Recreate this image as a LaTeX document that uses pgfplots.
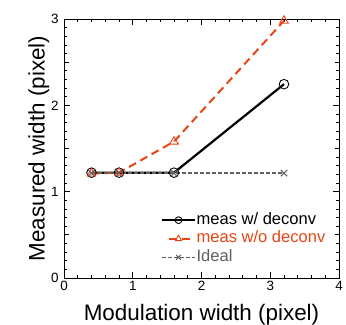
\documentclass[border=0pt]{standalone}
\usepackage{pgfplots}
\pgfplotsset{compat=1.18}
\usepackage{fontspec}
\setmainfont{Liberation Sans}
\definecolor{redor}{RGB}{232,68,20}
\definecolor{idealgray}{RGB}{95,95,95}
\begin{document}
\begin{tikzpicture}
\begin{axis}[
  scale only axis,
  width=275bp, height=259bp,
  xmin=0, xmax=4, ymin=0, ymax=3,
  xtick={0,1,2,3,4}, ytick={0,1,2,3},
  minor x tick num=4, minor y tick num=9,
  extra y ticks={0.5,1.5,2.5}, extra y tick labels={},
  extra y tick style={major tick length=4.5bp, tick style={line width=0.8pt}},
  tick align=inside, ticks=both,
  xtick pos=both, ytick pos=both,
  major tick length=6bp, minor tick length=3bp,
  tick style={black, line width=0.8pt},
  axis line style={line width=0.9pt},
  /pgf/number format/assume math mode=true,
  ticklabel style={font=\fontsize{13.5}{13.5}\selectfont},
  label style={font=\fontsize{22.5}{22.5}\selectfont},
  xlabel={Modulation width (pixel)},
  ylabel={Measured width (pixel)},
  xlabel style={yshift=-6bp},
  ylabel style={yshift=-5bp},
  xticklabel style={yshift=0bp},
  yticklabel style={xshift=-2bp},
  legend style={draw=none, fill=none, at={(rel axis cs:0.35,0.26)}, anchor=north west,
    font=\fontsize{16.6}{17}\selectfont, row sep=0bp, inner sep=0pt,
    nodes={text height=12.3bp, text depth=4.3bp, inner sep=1bp}},
  legend cell align=left,
  legend image code/.code={\draw[mark repeat=2,mark phase=2, mark size=3.4bp] plot coordinates {(0bp,0bp)(17bp,0bp)(33bp,0bp)};},
]
\coordinate (bl) at (rel axis cs:0,0);
\coordinate (tr) at (rel axis cs:1,1);
\addplot[black, line width=2.2pt, mark=o, mark size=4.8bp, mark options={solid, line width=0.9pt}]
  coordinates {(0.4,1.22) (0.8,1.22) (1.6,1.22) (3.2,2.245)};
\addlegendentry{meas w/ deconv}
\addplot[redor, line width=2pt, dash pattern=on 8bp off 5bp, mark=triangle, mark size=5bp, mark options={solid, line width=0.9pt},
  legend image code/.code={\draw[mark repeat=2,mark phase=2, mark size=3.6bp] plot coordinates {(7bp,0bp)(17bp,0bp)(31bp,0bp)};}]
  coordinates {(0.4,1.21) (0.8,1.22) (1.6,1.58) (3.2,2.98)};
\addlegendentry{\textcolor{redor}{meas w/o deconv}}
\addplot[idealgray, line width=1.6pt, dash pattern=on 4bp off 2bp, mark=x, mark size=4.5bp, mark options={solid, line width=1pt}]
  coordinates {(0.4,1.215) (0.8,1.215) (1.6,1.215) (3.2,1.215)};
\addlegendentry{\textcolor{idealgray}{Ideal}}
\end{axis}
\pgfresetboundingbox
\useasboundingbox ([shift={(-64bp,-46bp)}]bl) rectangle ([shift={(7bp,19bp)}]tr);
\end{tikzpicture}
\end{document}
